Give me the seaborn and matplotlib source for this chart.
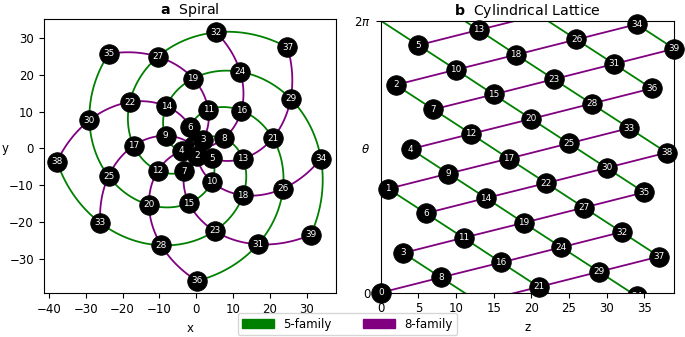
import numpy as np
import pandas as pd
import seaborn as sns
import matplotlib.pyplot as plt
from matplotlib.patches import Patch

# node ids, spiral radius and angular position (fraction of a full turn)
node = [0, 1, 2, 3, 4, 5, 6, 7, 8, 9, 10, 11, 12, 13, 14, 15, 16, 17, 18, 19,
        20, 21, 22, 23, 24, 25, 26, 27, 28, 29, 30, 31, 32, 33, 34, 35, 36, 37, 38, 39]
radius = [0, 1, 2, 3, 4, 5, 6, 7, 8, 9, 10, 11, 12, 13, 14, 15, 16, 17, 18, 19,
          20, 21, 22, 23, 24, 25, 26, 27, 28, 29, 30, 31, 32, 33, 34, 35, 36, 37, 38, 39]
turn = [0.000, 0.382, 0.764, 0.146, 0.528, 0.910, 0.292, 0.674, 0.056, 0.438,
        0.820, 0.202, 0.584, 0.966, 0.348, 0.729, 0.111, 0.493, 0.875, 0.257,
        0.639, 0.021, 0.403, 0.785, 0.167, 0.549, 0.931, 0.313, 0.695, 0.077,
        0.459, 0.841, 0.223, 0.605, 0.987, 0.369, 0.751, 0.133, 0.515, 0.897]
families = {'5-family': 5, '8-family': 8}
fam_colors = {'5-family': 'green', '8-family': 'purple'}

turn = np.array(turn)
radius = np.array(radius, dtype=float)
ang = 2 * np.pi * turn
pts = pd.DataFrame({'node': node,
                    'x': radius * np.cos(ang),
                    'y': radius * np.sin(ang),
                    'z': node,
                    'theta': ang})

# connecting paths for each family
spiral_rows = []
cyl_rows = []
seg = 0
for fam, k in families.items():
    for n in node:
        m = n + k
        if m > node[-1]:
            continue
        d = (turn[m] - turn[n] + 0.5) % 1 - 0.5
        t = np.linspace(0, 1, 40)
        rr = radius[n] + t * (radius[m] - radius[n])
        aa = 2 * np.pi * (turn[n] + t * d)
        for xx, yy in zip(rr * np.cos(aa), rr * np.sin(aa)):
            spiral_rows.append((seg, fam, xx, yy))
        for shift in (-1, 0, 1):
            cyl_rows.append((seg, fam, n, 2 * np.pi * (turn[n] + shift)))
            cyl_rows.append((seg, fam, m, 2 * np.pi * (turn[n] + d + shift)))
            seg += 1
        seg += 1
spiral = pd.DataFrame(spiral_rows, columns=['seg', 'family', 'x', 'y'])
cyl = pd.DataFrame(cyl_rows, columns=['seg', 'family', 'z', 'theta'])

fig = plt.figure(figsize=(6.85, 3.37), dpi=100)
ax1 = fig.add_axes([0.0638, 0.1297, 0.4267, 0.813])
ax2 = fig.add_axes([0.5558, 0.1315, 0.4286, 0.807])

tick_fs = 8.5
lab_fs = 6.4
msize = 200

## a: spiral ##
sns.lineplot(data=spiral, x='x', y='y', units='seg', estimator=None, sort=False,
             hue='family', palette=fam_colors, lw=1.3, legend=False, ax=ax1, zorder=1)
# one node at a time so later circles sit on top of earlier labels
for i, r in pts.iterrows():
    sns.scatterplot(x=[r['x']], y=[r['y']], color='black', s=msize, edgecolor='black',
                    linewidth=0.5, legend=False, ax=ax1, zorder=3 + 2 * i, clip_on=False)
    ax1.text(r['x'], r['y'], str(int(r['node'])), color='white', ha='center',
             va='center', fontsize=lab_fs, zorder=4 + 2 * i)
ax1.set_xticks([-40, -30, -20, -10, 0, 10, 20, 30])
ax1.set_yticks([-30, -20, -10, 0, 10, 20, 30])
ax1.tick_params(labelsize=tick_fs)
ax1.set_xlabel('x', fontsize=tick_fs)
ax1.set_ylabel('y', fontsize=tick_fs, rotation=0, va='center')
ax1.yaxis.set_label_coords(-0.132, 0.527)
ax1.set_title(r'$\bf{a}$  Spiral', fontsize=10.2, pad=4)

## b: cylindrical lattice ##
sns.lineplot(data=cyl, x='z', y='theta', units='seg', estimator=None, sort=False,
             hue='family', palette=fam_colors, lw=1.3, legend=False, ax=ax2, zorder=1)
sns.scatterplot(data=pts, x='z', y='theta', color='black', s=msize, edgecolor='black',
                linewidth=0.5, legend=False, ax=ax2, zorder=3, clip_on=False)
for _, r in pts.iterrows():
    ax2.text(r['z'], r['theta'], str(int(r['node'])), color='white', ha='center',
             va='center', fontsize=lab_fs, zorder=4)
# node sitting right under the top edge also shows up wrapped at the bottom (clipped)
wrap = pts[pts['theta'] > 2 * np.pi * 0.975]
sns.scatterplot(x=wrap['z'], y=wrap['theta'] - 2 * np.pi, color='black', s=msize,
                edgecolor='black', linewidth=0.5, legend=False, ax=ax2, zorder=3)
for _, r in wrap.iterrows():
    ax2.text(r['z'], r['theta'] - 2 * np.pi, str(int(r['node'])), color='white',
             ha='center', va='center', fontsize=lab_fs, zorder=4, clip_on=True)
ax2.set_xlim(0, 39)
ax2.set_ylim(0, 2 * np.pi)
ax2.set_xticks([0, 5, 10, 15, 20, 25, 30, 35])
ax2.set_yticks([0, 2 * np.pi])
ax2.set_yticklabels(['0', r'$2\pi$'])
ax2.tick_params(labelsize=tick_fs)
ax2.set_xlabel('z', fontsize=tick_fs)
ax2.set_ylabel(r'$\theta$', fontsize=tick_fs, rotation=0, va='center')
ax2.yaxis.set_label_coords(-0.053, 0.528)
ax2.set_title(r'$\bf{b}$  Cylindrical Lattice', fontsize=10.2, pad=4)

handles = [Patch(color=c, label=f) for f, c in fam_colors.items()]
fig.legend(handles=handles, loc='lower center', ncol=2, fontsize=8.5,
           bbox_to_anchor=(0.507, 0.0), borderaxespad=0.15, handlelength=2.7,
           columnspacing=2.6)

fig.savefig('out.png', dpi=100)
